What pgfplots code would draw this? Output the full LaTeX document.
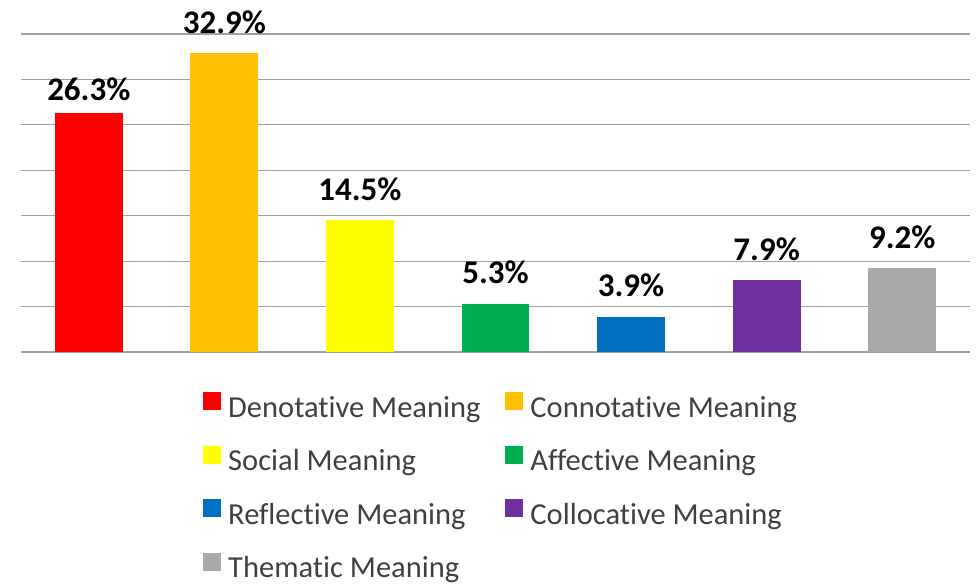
\documentclass[border=0pt]{standalone}
\usepackage{fontspec}
\setmainfont{Carlito}[Ligatures=NoCommon]
\usepackage{pgfplots}
\pgfplotsset{compat=1.18}
\definecolor{cRed}{HTML}{FF0000}
\definecolor{cOrange}{HTML}{FFC000}
\definecolor{cYellow}{HTML}{FFFF00}
\definecolor{cGreen}{HTML}{00B050}
\definecolor{cBlue}{HTML}{0070C0}
\definecolor{cPurple}{HTML}{7030A0}
\definecolor{cGray}{HTML}{A9A9A9}
\definecolor{gridc}{HTML}{A0A0A0}
\definecolor{legtext}{HTML}{404040}
\begin{document}
\begin{tikzpicture}
\begin{axis}[
  scale only axis, width=949pt, height=318pt,
  ybar, bar width=0.5, bar shift=0pt,
  xmin=-0.5, xmax=6.5, ymin=0, ymax=35,
  ytick={0,5,...,35}, yticklabels={}, xtick=\empty,
  ymajorgrids, grid style={line width=1.2pt, draw=gridc},
  axis line style={draw=none}, tick style={draw=none},
  clip=false,
  nodes near coords={\pgfmathprintnumber[fixed,fixed zerofill,precision=1,assume math mode=true]{\pgfplotspointmeta}\%},
  every node near coord/.style={anchor=base, inner sep=0pt, font=\fontsize{33}{39}\selectfont\bfseries, text=black, yshift=20pt},
  legend columns=2,
  legend cell align=left,
  legend style={at={(0.1918,-0.126)}, anchor=north west, draw=none, fill=none, inner sep=0pt,
    font=\fontsize{30.5}{36}\selectfont, text=legtext, row sep=21.5pt,
    nodes={inner sep=0pt, text height=21pt, text depth=7pt},
    /tikz/every odd column/.append style={column sep=7pt},
    /tikz/every even column/.append style={column sep=25pt}},
  legend image code/.code={\fill[#1] (0pt,0pt) rectangle (18pt,18pt);},
]
\addplot[fill=cRed, draw=none, every node near coord/.append style={yshift=-7pt}] coordinates {(0,26.3)};
\addlegendentry{Denotative Meaning}
\addplot[fill=cOrange, draw=none] coordinates {(1,32.9)};
\addlegendentry{Connotative Meaning}
\addplot[fill=cYellow, draw=none] coordinates {(2,14.5)};
\addlegendentry{Social Meaning}
\addplot[fill=cGreen, draw=none] coordinates {(3,5.3)};
\addlegendentry{Affective Meaning}
\addplot[fill=cBlue, draw=none] coordinates {(4,3.9)};
\addlegendentry{Reflective Meaning}
\addplot[fill=cPurple, draw=none] coordinates {(5,7.9)};
\addlegendentry{Collocative Meaning}
\addplot[fill=cGray, draw=none] coordinates {(6,9.2)};
\addlegendentry{Thematic Meaning}
\end{axis}
\pgfresetboundingbox
\path[use as bounding box] (current axis.south west) ++(-21pt,-232pt) rectangle ++(977pt,584pt);
\end{tikzpicture}
\end{document}
